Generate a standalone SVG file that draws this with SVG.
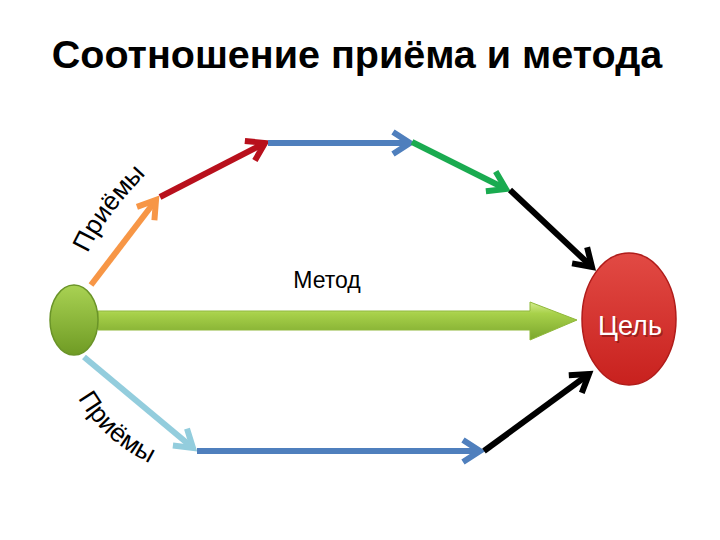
<svg xmlns="http://www.w3.org/2000/svg" width="720" height="540" viewBox="0 0 720 540">
<style>
.t{font-family:"Liberation Sans",Arial,sans-serif}
.c{fill:none;stroke-width:6;stroke-linecap:butt;stroke-linejoin:miter}
</style>
<defs>
<linearGradient id="gG" x1="0" y1="0" x2="0" y2="1">
<stop offset="0" stop-color="#a9d253"/><stop offset="1" stop-color="#6f9b24"/>
</linearGradient>
<linearGradient id="gR" x1="0" y1="0" x2="0" y2="1">
<stop offset="0" stop-color="#e24a44"/><stop offset="1" stop-color="#c8211e"/>
</linearGradient>
<linearGradient id="gA" x1="0" y1="0" x2="0" y2="1">
<stop offset="0" stop-color="#d4ec8f"/><stop offset="0.3" stop-color="#a8d14a"/><stop offset="1" stop-color="#7aa62c"/>
</linearGradient>
<path id="p1" d="M88 253 Q102 220 148 172"/>
<path id="p2" d="M78 398 Q104 444 160 468"/>
<marker id="mO" markerUnits="userSpaceOnUse" viewBox="-24 -14 30 28" markerWidth="30" markerHeight="28" refX="0" refY="0" orient="auto"><path d="M-17 -11 L0 0 L-17 11" fill="none" stroke="#f79646" stroke-width="6"/></marker>
<marker id="mR" markerUnits="userSpaceOnUse" viewBox="-24 -14 30 28" markerWidth="30" markerHeight="28" refX="0" refY="0" orient="auto"><path d="M-17 -11 L0 0 L-17 11" fill="none" stroke="#b8101c" stroke-width="6"/></marker>
<marker id="mB" markerUnits="userSpaceOnUse" viewBox="-24 -14 30 28" markerWidth="30" markerHeight="28" refX="0" refY="0" orient="auto"><path d="M-17 -11 L0 0 L-17 11" fill="none" stroke="#4f7fbd" stroke-width="6"/></marker>
<marker id="mGr" markerUnits="userSpaceOnUse" viewBox="-24 -14 30 28" markerWidth="30" markerHeight="28" refX="0" refY="0" orient="auto"><path d="M-17 -11 L0 0 L-17 11" fill="none" stroke="#1aab50" stroke-width="6"/></marker>
<marker id="mK" markerUnits="userSpaceOnUse" viewBox="-24 -14 30 28" markerWidth="30" markerHeight="28" refX="0" refY="0" orient="auto"><path d="M-17 -11 L0 0 L-17 11" fill="none" stroke="#000" stroke-width="6"/></marker>
<marker id="mL" markerUnits="userSpaceOnUse" viewBox="-24 -14 30 28" markerWidth="30" markerHeight="28" refX="0" refY="0" orient="auto"><path d="M-17 -11 L0 0 L-17 11" fill="none" stroke="#93cddd" stroke-width="6"/></marker>
</defs>
<rect width="720" height="540" fill="#fff"/>
<text class="t" x="357" y="68" font-size="39.5" font-weight="bold" text-anchor="middle">Соотношение приёма и метода</text>
<g id="connectors">
<line class="c" x1="91" y1="285" x2="156" y2="200" stroke="#f79646" marker-end="url(#mO)"/>
<line class="c" x1="160" y1="197" x2="265" y2="143" stroke="#b8101c" marker-end="url(#mR)"/>
<line class="c" x1="268" y1="143" x2="410" y2="143" stroke="#4f7fbd" marker-end="url(#mB)"/>
<line class="c" x1="412" y1="142" x2="506" y2="189" stroke="#1aab50" marker-end="url(#mGr)"/>
<line class="c" x1="510" y1="190" x2="592" y2="267" stroke="#000" marker-end="url(#mK)"/>
<line class="c" x1="84" y1="357" x2="193" y2="448" stroke="#93cddd" marker-end="url(#mL)"/>
<line class="c" x1="197" y1="451" x2="480" y2="451" stroke="#4f7fbd" marker-end="url(#mB)"/>
<line class="c" x1="484" y1="451" x2="589" y2="374" stroke="#000" marker-end="url(#mK)"/>
<path id="method" d="M98 311 H530 V302 L577 320 L530 340 V330 H98 Z" fill="url(#gA)" stroke="#8fb83a" stroke-width="1"/>
</g>
<text class="t" x="327" y="288" font-size="23" text-anchor="middle">Метод</text>
<text class="t" font-size="26"><textPath href="#p1">Приёмы</textPath></text>
<text class="t" font-size="26"><textPath href="#p2">Приёмы</textPath></text>
<g id="start">
<ellipse cx="74" cy="320" rx="24" ry="35" fill="url(#gG)" stroke="#6a9428" stroke-width="1.5"/>
</g>
<g id="goal">
<ellipse cx="629" cy="319" rx="47" ry="66" fill="url(#gR)" stroke="#b01c1a" stroke-width="1.5"/>
<text class="t" x="630" y="335" font-size="27" fill="#6a1010" text-anchor="middle" opacity="0.5" transform="translate(1.5,1.5)">Цель</text>
<text class="t" x="630" y="335" font-size="27" fill="#fff" text-anchor="middle">Цель</text>
</g>
</svg>
